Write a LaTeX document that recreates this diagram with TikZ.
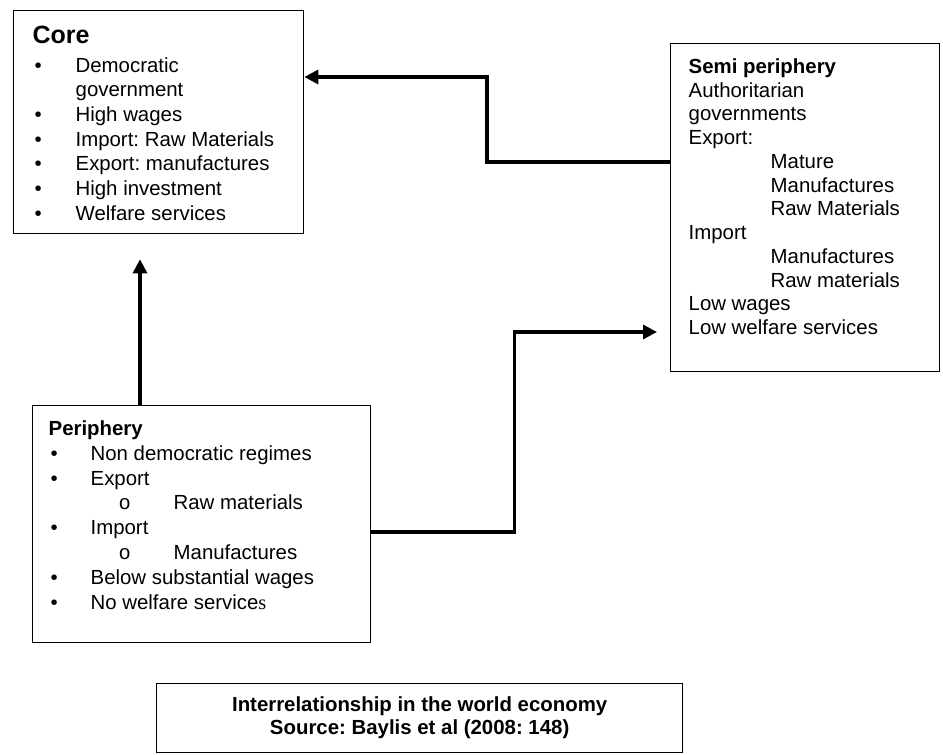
\documentclass[tikz,border=0pt]{standalone}
\usepackage{fontspec}
\setmainfont{Liberation Sans}
\newfontfamily\serifs{Liberation Serif}
\newfontfamily\monos{Liberation Mono}
\usetikzlibrary{arrows.meta,calc}
\frenchspacing
\newlength\pxu \setlength\pxu{0.75pt}
\newlength\bulind \setlength\bulind{43\pxu}
\newcommand{\itm}[1]{\makebox[\bulind][l]{\hspace{2\pxu}\textbullet}#1\par}
\newcommand{\cont}[1]{\hspace{\bulind}#1\par}
\newcommand{\subitm}[1]{\hspace{70\pxu}\makebox[55\pxu][l]{\monos o}#1\par}
\newcommand{\ind}[1]{\hspace{82\pxu}#1\par}
\tikzset{
  panel/.style={draw, line width=1pt, anchor=north west, inner xsep=18\pxu, inner ysep=15\pxu},
  link/.style={line width=2.4pt, -{Triangle[length=10.5pt,width=10.5pt]}}
}
\begin{document}
\begin{tikzpicture}[x=0.75pt,y=-0.75pt,font=\fontsize{15.3}{18.5}\selectfont]
    \useasboundingbox (0,0) rectangle (943,755);
    \node[panel, inner xsep=19\pxu] (core) at (13,10) {\parbox[t][193\pxu][t]{252\pxu}{%
        {\fontsize{18.75}{18.5}\selectfont\bfseries Core\par}\vspace{3.2pt}
        \itm{Democratic}
        \cont{government}
        \itm{High wages}
        \itm{Import: Raw Materials}
        \itm{Export: manufactures}
        \itm{High investment}
        \itm{Welfare services}}};
    \node[panel] (semi) at (670,43) {\parbox[t][298\pxu][t]{233\pxu}{%
        \fontsize{15.3}{17.8}\selectfont
        {\bfseries Semi periphery\par}
        Authoritarian\par
        governments\par
        Export:\par
        \ind{Mature}
        \ind{Manufactures}
        \ind{Raw Materials}
        Import\par
        \ind{Manufactures}
        \ind{Raw materials}
        Low wages\par
        Low welfare services\par}};
    \node[panel, inner xsep=16\pxu] (periphery) at (32,405) {\parbox[t][207\pxu][t]{306\pxu}{%
        \fontsize{15.3}{18.6}\selectfont\setlength\bulind{42\pxu}
        {\bfseries Periphery\par}
        \itm{Non democratic regimes}
        \itm{Export}
        \subitm{Raw materials}
        \itm{Import}
        \subitm{Manufactures}
        \itm{Below substantial wages}
        \itm{No welfare service{\serifs s}}}};
    \node[panel, inner sep=0pt, align=center, minimum width=526\pxu, minimum height=69\pxu,
        font=\fontsize{15.3}{17.25}\selectfont\bfseries] (caption) at (156,683)
        {Interrelationship in the world economy\\Source: Baylis et al (2008: 148)};
    \draw[link] ($(semi.north west)+(0,119)$) -- ++(-183,0) |- ($(core.north east)+(0,67)$);
    \draw[link] ($(periphery.north west)+(108,0)$) -- ($(core.south west)+(127,25)$);
    \draw[link] ($(periphery.north east)+(0,127)$) -- ++(143,0) |- ($(semi.north west)+(-13,289)$);
\end{tikzpicture}
\end{document}
